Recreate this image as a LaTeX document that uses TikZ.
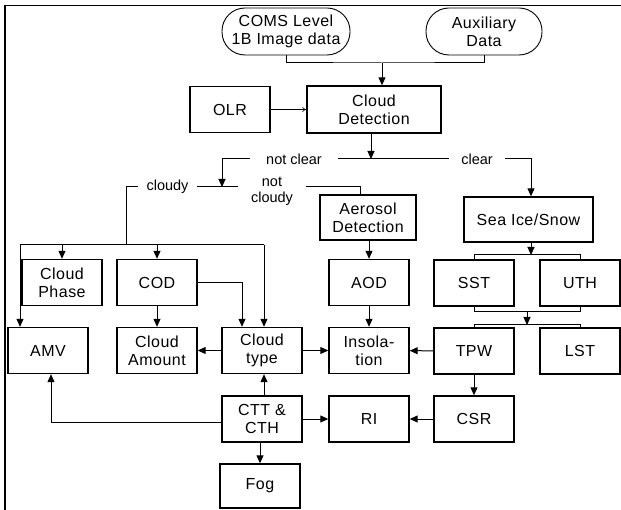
\documentclass[tikz,border=0pt]{standalone}
\usepackage{fontspec}
\setmainfont{Liberation Sans}
\newfontfamily\boxfont[LetterSpace=3]{Liberation Sans}
\usetikzlibrary{arrows.meta}

\begin{document}
\begin{tikzpicture}[x=1pt, y=-1pt,
  box/.style={draw, line width=1.4pt, inner sep=0pt, minimum width=80pt,
    minimum height=46pt, align=center, font=\boxfont\fontsize{16}{18}\selectfont},
  terminal/.style={box, line width=0.9pt, rounded corners=23pt, minimum height=47pt},
  link/.style={line width=1pt},
  arr/.style={link, -{Triangle[length=8pt,width=7pt]}},
  thinarr/.style={line width=0.6pt, -{To[length=4pt,width=5pt]}},
  lbl/.style={fill=white, inner ysep=1pt, align=center,
    font=\fontsize{14.5}{16}\selectfont},
]
\useasboundingbox (0,0) rectangle (621,510);

% page frame
\draw[line width=1.6pt] (5,510) -- (5,5.5) -- (621,5.5);

% inputs
\node[terminal, minimum width=128pt] (coms) at (286,31.5) {COMS Level\\1B Image data};
\node[terminal, minimum width=116pt] (aux) at (484,31.5) {Auxiliary\\Data};

% detection stage
\node[box] (olr) at (230,109.5) {OLR};
\node[box, minimum width=134pt, minimum height=47pt] (cd) at (374,109.5) {Cloud\\Detection};
\node[box, minimum width=96pt, minimum height=45pt] (aer) at (368,217.5) {Aerosol\\Detection};
\node[box, minimum width=129pt, minimum height=45pt] (sea) at (528.5,219.5) {Sea Ice/Snow};

% first row of products
\node[box] (phase) at (62,282.5) {Cloud\\Phase};
\node[box] (cod) at (157,282.5) {COD};
\node[box] (aod) at (369,282.5) {AOD};
\node[box] (sst) at (474,283) {SST};
\node[box] (uth) at (580,283) {UTH};

% second row
\node[box] (amv) at (48,350.5) {AMV};
\node[box] (amount) at (157,350.5) {Cloud\\Amount};
\node[box] (type) at (262,350.5) {Cloud\\type};
\node[box] (insol) at (369,350.5) {Insola-\\tion};
\node[box] (tpw) at (474,351) {TPW};
\node[box] (lst) at (580,351) {LST};

% third row
\node[box] (ctt) at (262,419) {CTT \&\\CTH};
\node[box] (ri) at (369,419) {RI};
\node[box] (csr) at (474,419) {CSR};
\node[box, minimum height=44pt] (fog) at (260,486) {Fog};

% inputs to cloud detection
\coordinate (j1) at (382,63);
\draw[link] (coms.south) |- (j1) -| (aux.south);
\draw[arr] (j1) -- (j1 |- cd.north);
\draw[thinarr] (olr) -- (cd);

% clear / not clear split
\coordinate (s1) at (371,159);
\coordinate (sL) at (222,159);
\coordinate (sR) at (531,159);
\coordinate (s2) at (222,187);
\draw[arr] (cd.south -| s1) -- (s1);
\draw[arr] (sL) -- (sR) -- (sR |- sea.north);
\draw[arr] (sL) -- (s2);
\node[lbl, inner xsep=16pt] (lnc) at (294,159) {not clear};
\node[lbl, inner xsep=12pt] (lc) at (477,159) {clear};

% cloudy / not cloudy split
\coordinate (cl) at (126,187);
\coordinate (nc) at (360,187);
\draw[link] (cl) -- (nc) -- (nc |- aer.north);
\node[lbl, inner xsep=9pt] (lcl) at (167.5,187) {cloudy};
\node[lbl, inner xsep=13pt] (lncl) at (272,191) {not\\cloudy};

% cloudy branch bus
\coordinate (bus) at (126,245);
\coordinate (bL) at (20,245);
\coordinate (bR) at (264,245);
\draw[link] (cl) -- (bus);
\draw[link] (bL) -- (bR);
\draw[arr] (bL) -- (bL |- amv.north);
\draw[arr] (phase.north |- bL) -- (phase.north);
\draw[arr] (cod.north |- bL) -- (cod.north);
\draw[arr] (bR) -- (bR |- type.north);

% cloud products
\draw[arr] (cod.east) -| ([xshift=-20pt]type.north);
\draw[arr] (cod) -- (amount);
\draw[arr] (type) -- (amount);
\draw[arr] (type) -- (insol);
\draw[arr] (ctt) -- (ri);
\draw[arr] ([xshift=2pt]ctt.north) -- ([xshift=2pt]type.south);
\draw[arr] (ctt.south -| fog) -- (fog.north);
\draw[arr] ([yshift=-3pt]ctt.west) -| ([xshift=3pt]amv.south);

% aerosol branch
\draw[arr] (aer.south -| aod) -- (aod.north);
\draw[arr] (aod) -- (insol);

% clear-sky branch
\coordinate (t1) at (531,255);
\coordinate (t2) at (527,312);
\coordinate (t3) at (527,325);
\draw[arr] (sea.south -| t1) -- (t1);
\draw[link] (sst.north) -- (sst.north |- t1) -- (uth.north |- t1) -- (uth.north);
\draw[link] (sst.south) -- (sst.south |- t2) -- (uth.south |- t2) -- (uth.south);
\draw[arr] (t2) -- (t3);
\draw[link] (tpw.north) -- (tpw.north |- t3) -- (lst.north |- t3) -- (lst.north);
\draw[arr] (tpw) -- (insol);
\draw[arr] (tpw) -- (csr);
\draw[arr] (csr) -- (ri);
\end{tikzpicture}
\end{document}
